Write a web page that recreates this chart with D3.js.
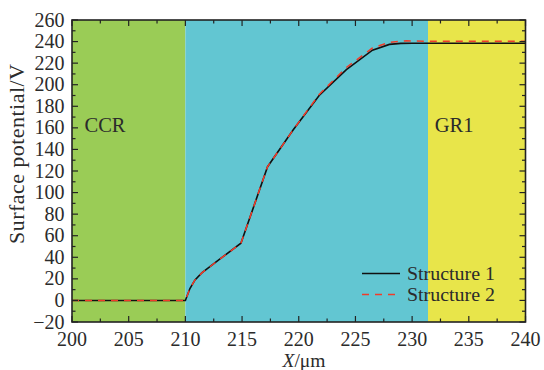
<!DOCTYPE html>
<html><head><meta charset="utf-8">
<script src="https://cdn.jsdelivr.net/npm/d3@7"></script>
<style>body{margin:0;background:#fff}svg{display:block}text{font-family:"Liberation Serif","Times New Roman",serif;fill:#2b2b2b}</style>
</head><body><svg id="c" width="544" height="370"></svg>
<script>
const xTicks = [200,205,210,215,220,225,230,235,240];
const yTicks = [-20,0,20,40,60,80,100,120,140,160,180,200,220,240,260];
const regionStart = [200, 210, 231.4];
const regionEnd = [210, 231.4, 240];
const regionColors = ["#9acc56", "#62c6d2", "#e8e54a"];
const regionLabels = ["CCR", "", "GR1"];
const regionLabelX = [201.1, 0, 232.0];
const s1x = [200,202,204,206,208,210,210.4,210.85,211.45,213,214.9,217.25,219.5,221.8,224.2,226.5,228,229,230,231.4,235,240];
const s1y = [0,0,0,0,0,0,11,19,25.5,38,53,124,158,190,214,232,237.4,238.3,238.4,238.4,238.4,238.4];
const s2x = [200,202,204,206,208,210,210.4,210.85,211.45,213,214.9,217.25,219.5,221.8,224.2,226.5,228,229.5,231,235,240];
const s2y = [0,0,0,0,0,0,11,19,25.5,38,53,124,158,191,216,234,239.3,240.7,240.4,240.4,240.4];
const seriesNames = ["Structure 1", "Structure 2"];

const svg = d3.select("#c");
const x = d3.scaleLinear().domain([200,240]).range([72,525.5]);
const y = d3.scaleLinear().domain([-20,260]).range([322,20]);

regionStart.forEach((s,i)=>{
  svg.append("rect").attr("x",x(s)).attr("y",y(260)).attr("width",x(regionEnd[i])-x(s)).attr("height",y(-20)-y(260)).attr("fill",regionColors[i]);
  if(regionLabels[i]) svg.append("text").attr("x",x(regionLabelX[i])).attr("y",132).attr("font-size",20.5).text(regionLabels[i]);
});

const line = d3.line().x(d=>x(d[0])).y(d=>y(d[1]));
svg.append("path").datum(s1x.map((v,i)=>[v,s1y[i]])).attr("d",line).attr("fill","none").attr("stroke","#111").attr("stroke-width",1.6);
svg.append("path").datum(s2x.map((v,i)=>[v,s2y[i]])).attr("d",line).attr("fill","none").attr("stroke","#f03c2a").attr("stroke-width",1.5).attr("stroke-dasharray","7,6");

// axes
const tickIn = 6, minorIn = 3.5;
const g = svg.append("g").attr("stroke","#222").attr("stroke-width",1.2);
const minorX = d3.range(200,240.01,2.5);
const minorY = d3.range(-20,260.01,10);
minorX.forEach(v=>{
  const major = xTicks.includes(v);
  const L = major?tickIn:minorIn;
  g.append("line").attr("x1",x(v)).attr("x2",x(v)).attr("y1",y(-20)).attr("y2",y(-20)-L);
  g.append("line").attr("x1",x(v)).attr("x2",x(v)).attr("y1",y(260)).attr("y2",y(260)+L);
});
minorY.forEach(v=>{
  const major = yTicks.includes(v);
  const L = major?tickIn:minorIn;
  g.append("line").attr("x1",x(200)).attr("x2",x(200)+L).attr("y1",y(v)).attr("y2",y(v));
  g.append("line").attr("x1",x(240)).attr("x2",x(240)-L).attr("y1",y(v)).attr("y2",y(v));
});
svg.append("rect").attr("x",x(200)).attr("y",y(260)).attr("width",x(240)-x(200)).attr("height",y(-20)-y(260)).attr("fill","none").attr("stroke","#222").attr("stroke-width",1.6);

xTicks.forEach(v=>svg.append("text").attr("x",x(v)).attr("y",346).attr("text-anchor","middle").attr("font-size",20).text(v));
yTicks.forEach(v=>svg.append("text").attr("x",64.5).attr("y",y(v)+6.5).attr("text-anchor","end").attr("font-size",20).text(v<0?"\u2212"+Math.abs(v):v));

const xl = svg.append("text").attr("x",304).attr("y",366.5).attr("text-anchor","middle").attr("font-size",19.5);
xl.append("tspan").attr("font-style","italic").text("X");
xl.append("tspan").text("/\u03bcm");
svg.append("text").attr("transform","translate(24,154) rotate(-90)").attr("text-anchor","middle").attr("font-size",22)
  .attr("textLength",180).attr("lengthAdjust","spacing").text("Surface potential/V");

// legend
const lg = [[273.5,"#111",null],[294.5,"#f03c2a","7,6"]];
lg.forEach((d,i)=>{
  const l = svg.append("line").attr("x1",362).attr("x2",400).attr("y1",d[0]).attr("y2",d[0]).attr("stroke",d[1]).attr("stroke-width",1.6);
  if(d[2]) l.attr("stroke-dasharray",d[2]);
  svg.append("text").attr("x",407).attr("y",d[0]+6).attr("font-size",19).attr("textLength",88).attr("lengthAdjust","spacingAndGlyphs").text(seriesNames[i]);
});
</script></body></html>
